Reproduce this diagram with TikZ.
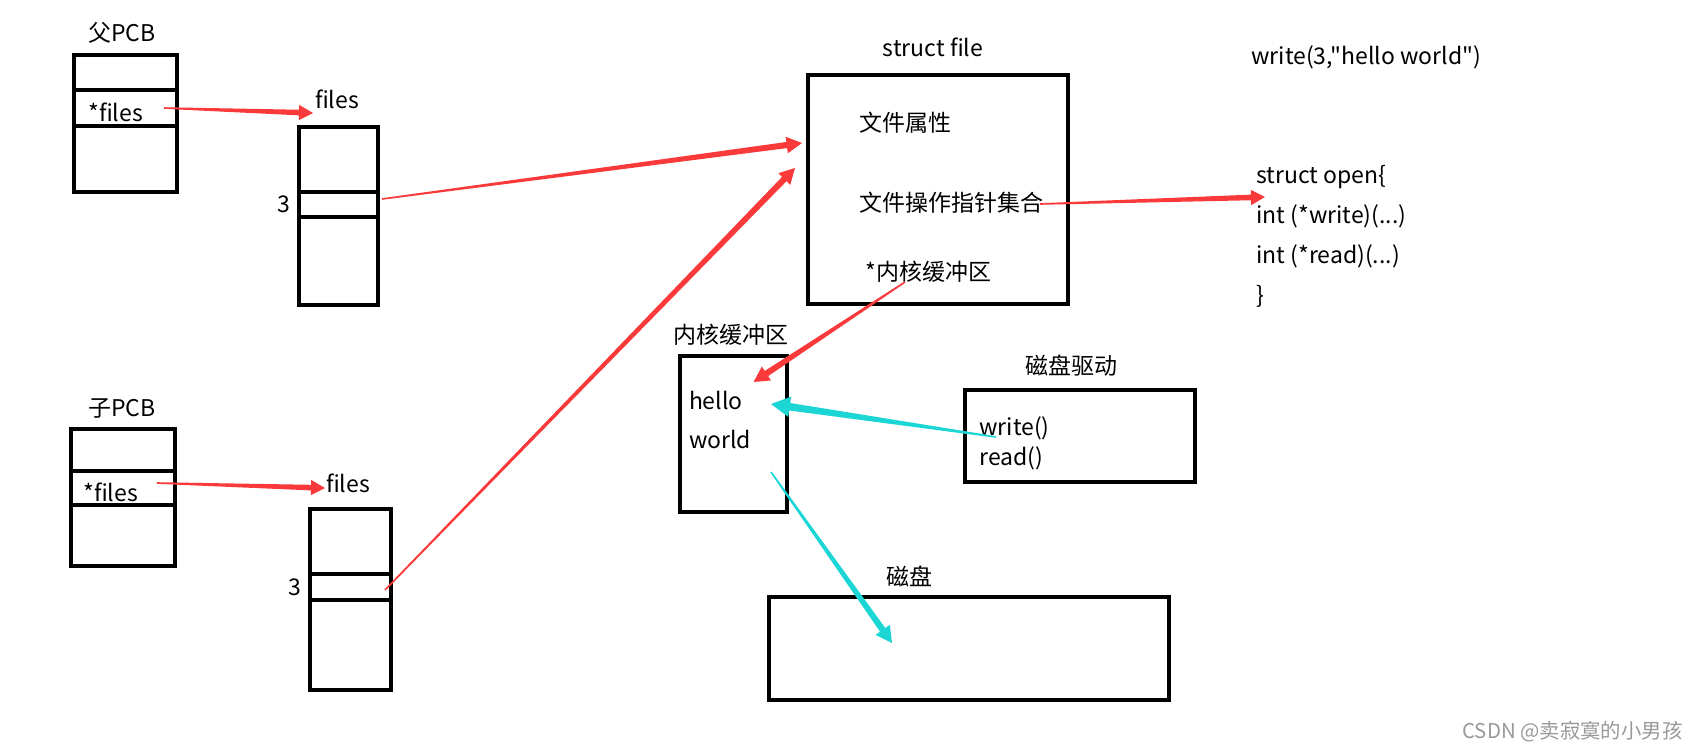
\documentclass[tikz,border=0pt]{standalone}
\usepackage{fontspec}
\setmainfont{Noto Sans CJK SC}
\newfontfamily\plainfont{Noto Sans CJK SC}
\usetikzlibrary{positioning, calc}

\definecolor{penred}{RGB}{250,58,58}
\definecolor{pencyan}{RGB}{28,214,214}

\tikzset{
  box/.style={draw, line width=2pt, inner sep=0pt, outer sep=0pt},
  lbl/.style={inner sep=0pt, font=\fontsize{11.5}{14}\selectfont},
  txt/.style={lbl, anchor=west},
  code/.style={lbl, anchor=base west},
}

% hand drawn arrow: thin at the start, wide near the head
\newcommand{\paintarrow}[4][1]{%
  \pgfmathsetmacro{\pahead}{7*#1}%
  \pgfmathsetmacro{\pawide}{3.8*#1}%
  \pgfmathsetmacro{\pashaft}{1.4*#1}%
  \coordinate (pa-h) at ($(#4)!\pahead pt!(#3)$);
  \fill[#2] ($(#3)!0.4pt!90:(#4)$) -- ($(pa-h)!\pashaft pt!90:(#4)$) -- ($(pa-h)!\pawide pt!90:(#4)$)
    -- (#4) -- ($(pa-h)!\pawide pt!-90:(#4)$) -- ($(pa-h)!\pashaft pt!-90:(#4)$) -- ($(#3)!0.4pt!-90:(#4)$) -- cycle;
}

\begin{document}
\begin{tikzpicture}[x=0.5pt, y=-0.5pt]
  \useasboundingbox (0,0) rectangle (1688,752);

  % parent PCB and its files table
  \node[box, minimum width=51.4pt, minimum height=17.7pt, anchor=north] (ptop) at (125.3,54.7) {};
  \node[box, minimum width=51.4pt, minimum height=18pt, below=0pt of ptop] (pfp) {};
  \node[box, minimum width=51.4pt, minimum height=33pt, below=0pt of pfp] (prest) {};
  \node[lbl] (plabel) at (122,33) {父PCB};
  \node[txt] (pfiles) at (88,112) {*files};

  \node[box, minimum width=39.5pt, minimum height=32.5pt, anchor=north] (pftop) at (338.5,127) {};
  \node[box, minimum width=39.5pt, minimum height=12.5pt, below=0pt of pftop] (pf3) {};
  \node[box, minimum width=39.5pt, minimum height=44pt, below=0pt of pf3] (pfrest) {};
  \node[lbl] (pflabel) at (337,99) {files};
  \node[lbl, left=4pt of pf3] (pfnum) {3};

  % child PCB and its files table
  \node[box, minimum width=52pt, minimum height=21pt, anchor=north] (ctop) at (123,429) {};
  \node[box, minimum width=52pt, minimum height=17pt, below=0pt of ctop] (cfp) {};
  \node[box, minimum width=52pt, minimum height=30.5pt, below=0pt of cfp] (crest) {};
  \node[lbl] (clabel) at (122,408) {子PCB};
  \node[txt] (cfiles) at (83,492) {*files};

  \node[box, minimum width=40.5pt, minimum height=32.5pt, anchor=north] (cftop) at (350.5,509) {};
  \node[box, minimum width=40.5pt, minimum height=13pt, below=0pt of cftop] (cf3) {};
  \node[box, minimum width=40.5pt, minimum height=45pt, below=0pt of cf3] (cfrest) {};
  \node[lbl] (cflabel) at (348,483) {files};
  \node[lbl, left=4pt of cf3] (cfnum) {3};

  % struct file
  \node[box, minimum width=130pt, minimum height=114.5pt] (sfile) at (938,189.5) {};
  \node[lbl] (sflabel) at (933,47) {struct file};
  \node[txt] (attr) at (859,123) {文件属性};
  \node[txt] (ops) at (859,203) {文件操作指针集合};
  \node[txt] (kbptr) at (865,272) {*内核缓冲区};

  \node[txt] (call) at (1251,57) {\plainfont write(3,"hello world")};
  \node[code] (open0) at (1256,183) {struct open\{};
  \node[code] (open1) at (1256,223) {int (*write)(...)};
  \node[code] (open2) at (1256,263) {int (*read)(...)};
  \node[code] (open3) at (1256,303) {\}};

  % kernel buffer, driver, disk
  \node[box, minimum width=53.5pt, minimum height=78pt] (kbuf) at (733.5,434) {};
  \node[lbl] (kblabel) at (731,335) {内核缓冲区};
  \node[txt] (hello) at (688.6,400) {hello};
  \node[txt] (world) at (688.6,439) {world};

  \node[box, minimum width=115pt, minimum height=46pt] (drv) at (1080,436) {};
  \node[lbl] (drvlabel) at (1071,366) {磁盘驱动};
  \node[txt] (dwrite) at (979,428) {write()};
  \node[txt] (dread) at (979,458) {read()};

  \node[box, minimum width=200pt, minimum height=51.5pt] (disk) at (969,648.5) {};
  \node[lbl] (disklabel) at (909,576) {磁盘};

  \node[anchor=west, inner sep=0pt, text=black!40, font=\fontsize{10.2}{12}\selectfont] (mark) at (1462,732) {CSDN @卖寂寞的小男孩};

  % arrow ends
  \coordinate (pfp-out) at (164,108);  \coordinate (pf-in) at (313,113);
  \coordinate (cfp-out) at (157,483);  \coordinate (cf-in) at (325,488);
  \coordinate (pf3-out) at (382,199);  \coordinate (sf-in1) at (802,143);
  \coordinate (cf3-out) at (385,590);  \coordinate (sf-in2) at (795,168);
  \coordinate (ops-out) at (1040,204); \coordinate (open-in) at (1265,197);
  \coordinate (kb-out) at (905,282);   \coordinate (kb-in) at (753.6,382);
  \coordinate (drv-out) at (996,437);  \coordinate (hello-in) at (771,404);
  \coordinate (buf-out) at (771,472);  \coordinate (disk-in) at (892,643);

  \paintarrow{penred}{pfp-out}{pf-in}
  \paintarrow{penred}{cfp-out}{cf-in}
  \paintarrow[1.1]{penred}{pf3-out}{sf-in1}
  \paintarrow[1.1]{penred}{cf3-out}{sf-in2}
  \paintarrow{penred}{ops-out}{open-in}
  \paintarrow[1.1]{penred}{kb-out}{kb-in}
  \paintarrow[1.35]{pencyan}{drv-out}{hello-in}
  \paintarrow[1.15]{pencyan}{buf-out}{disk-in}
\end{tikzpicture}
\end{document}
